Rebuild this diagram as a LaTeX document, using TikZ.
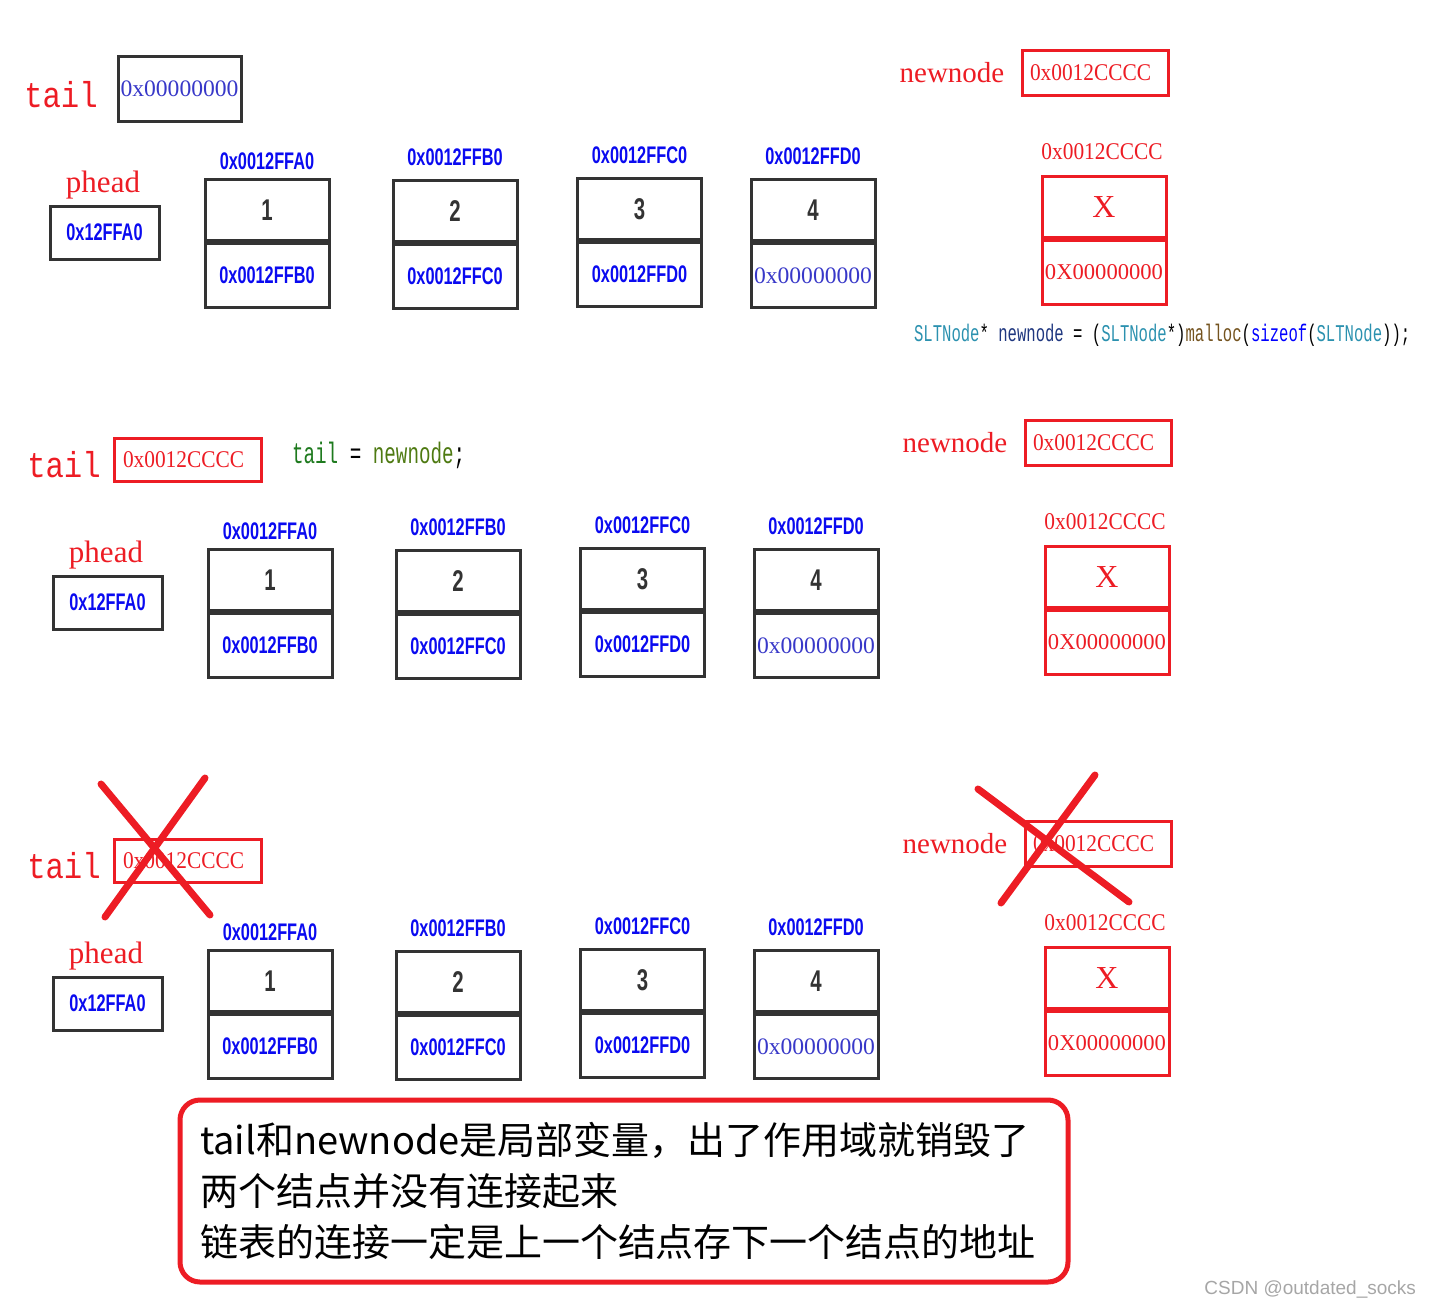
\documentclass[tikz,border=0pt]{standalone}
\usepackage{fontspec}
\usepackage{tikz}
\usetikzlibrary{positioning}
\setmainfont{Liberation Serif}
\newfontfamily\cjk{Noto Sans CJK SC}
\newfontfamily\addrfont{Liberation Sans}[FakeStretch=0.68]
\newfontfamily\marksans{Liberation Sans}
\newfontfamily\narrowserif{Liberation Serif}[FakeStretch=0.89]
\newfontfamily\tailfont{Liberation Mono}[FakeStretch=0.85]
\newfontfamily\codefont{Liberation Mono}[FakeStretch=0.65]
\definecolor{memred}{HTML}{ED1C24}
\definecolor{addrblue}{HTML}{0A0AF0}
\definecolor{valblue}{HTML}{3838C8}
\definecolor{boxgray}{HTML}{333333}
\definecolor{typeteal}{HTML}{2B91AF}
\definecolor{funcbrown}{HTML}{74531F}
\definecolor{varnavy}{HTML}{1F377F}
\definecolor{kwblue}{HTML}{0000FF}
\definecolor{codegreen}{HTML}{1E7A1E}
\definecolor{codeolive}{HTML}{4E7A12}
\tikzstyle{cell}=[draw=boxgray,line width=1.5pt,minimum width=62pt,inner sep=0pt]
\tikzstyle{datacell}=[cell,minimum height=30.5pt,text=boxgray,font=\addrfont\bfseries\fontsize{15}{15}\selectfont]
\tikzstyle{nextcell}=[cell,minimum height=32pt]
\tikzstyle{addr}=[text=addrblue,font=\addrfont\bfseries\fontsize{12}{12}\selectfont]
\tikzstyle{nullval}=[text=valblue,font=\fontsize{11.8}{12}\selectfont]
\tikzstyle{redcell}=[cell,draw=memred,text=memred]
\tikzstyle{redaddr}=[text=memred,font=\narrowserif\fontsize{12}{12}\selectfont]
\tikzstyle{varname}=[text=memred,font=\fontsize{15.5}{16}\selectfont]
\tikzstyle{taillabel}=[text=memred,font=\tailfont\fontsize{18}{18}\selectfont]
\tikzstyle{crossline}=[draw=memred,line width=3.5pt,line cap=round]

\begin{document}
\begin{tikzpicture}[x=0.5pt,y=-0.5pt]
    \useasboundingbox (0,0) rectangle (1431,1307);
    % Three snapshots of the list, one under the other
    \foreach \p/\dx/\dy in {a/0/0, b/3/370, c/3/771} {
    \begin{scope}[shift={(\dx,\dy)}]
        % First the variables tail, phead and newnode
        \node[taillabel] (\p-tail) at (61,95) {tail};
        \node[varname] (\p-phead) at (103,185) {phead};
        \node[cell,addr,minimum width=54.5pt,minimum height=26.5pt] (\p-pbox) at (104.5,232.5) {0x12FFA0};
        \node[varname,font=\fontsize{14.5}{15}\selectfont] (\p-newnode) at (952,73) {newnode};
        \node[redcell,redaddr,minimum height=22.5pt,minimum width=0pt,inner xsep=4pt,text width=65pt,align=left] (\p-nbox) at (1095,72.5) {0x0012CCCC};

        % Then the four nodes of the list
        \foreach \i/\x/\ty/\ay/\adr/\val/\nxt/\nst in {1/267/178/161/0x0012FFA0/1/0x0012FFB0/addr, 2/455/179/157/0x0012FFB0/2/0x0012FFC0/addr, 3/639.5/177/155/0x0012FFC0/3/0x0012FFD0/addr, 4/813/178/156/0x0012FFD0/4/0x00000000/nullval} {
            \node[addr] (\p\i-addr) at (\x,\ay) {\adr};
            \node[datacell,anchor=north] (\p\i) at (\x,\ty) {\val};
            \node[nextcell,\nst,below=0pt of \p\i] (\p\i-next) {\nxt};
        }

        % The node got from malloc
        \node[redaddr] (\p5-addr) at (1102,152) {0x0012CCCC};
        \node[datacell,redcell,anchor=north,font=\fontsize{16}{16}\selectfont] (\p5) at (1104,175) {X};
        \node[nextcell,redcell,below=0pt of \p5,font=\fontsize{11.3}{12}\selectfont] (\p5-next) {0X00000000};
    \end{scope}
    }

    % What tail holds
    \node[cell,nullval,minimum width=61.5pt,minimum height=32.5pt] (a-tbox) at (179.5,88.5) {0x00000000};
    \foreach \p/\dy in {b/459.5, c/860.5}
        \node[redcell,redaddr,minimum height=21.5pt,minimum width=0pt,inner xsep=4.5pt,text width=64.5pt,align=left] (\p-tbox) at (187.5,\dy) {0x0012CCCC};

    % Code lines
    \node[anchor=west,font=\codefont\fontsize{12}{12}\selectfont] (mallocline) at (907,335) {\textcolor{typeteal}{SLTNode}* \textcolor{varnavy}{newnode} = (\textcolor{typeteal}{SLTNode}*)\textcolor{funcbrown}{malloc}(\textcolor{kwblue}{sizeof}(\textcolor{typeteal}{SLTNode}));};
    \node[anchor=west,font=\codefont\fontsize{14.8}{15}\selectfont] (assignline) at (285,455) {\textcolor{codegreen}{tail} = \textcolor{codeolive}{newnode};};

    % Crossed out after the function returns
    \draw[crossline] (101,784) -- (210,915);
    \draw[crossline] (205,778) -- (105,917);
    \draw[crossline] (978,789) -- (1129,902);
    \draw[crossline] (1095,775) -- (1001,903);

    % Note at the bottom
    \node[draw=memred,line width=2.5pt,rounded corners=10pt,minimum width=444pt,minimum height=91pt,inner xsep=10pt,text width=424pt,align=left,font=\cjk\fontsize{19}{25.5}\selectfont] (note) at (624,1191) {tail和newnode是局部变量，出了作用域就销毁了\\两个结点并没有连接起来\\链表的连接一定是上一个结点存下一个结点的地址};
    \node[anchor=east,text=black!35,font=\marksans\fontsize{9.5}{10}\selectfont] (mark) at (1423,1289) {CSDN @outdated\_socks};
\end{tikzpicture}
\end{document}
